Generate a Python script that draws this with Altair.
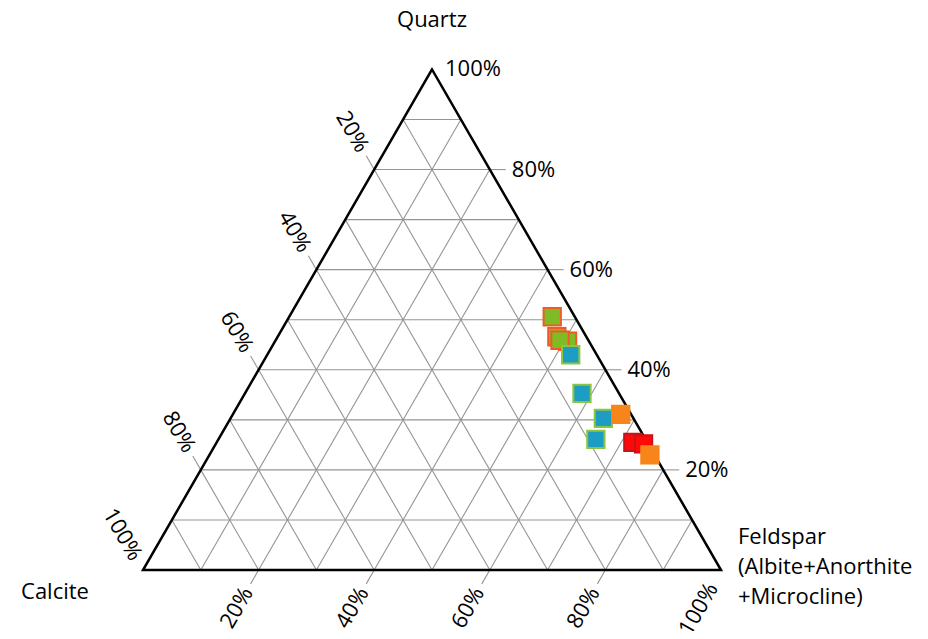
import math
import altair as alt
import pandas as pd

H = math.sqrt(3) / 2

# ---- sample compositions (percent) ----
series_names = ["Group A", "Group B", "Group C", "Group D"]
a_quartz = [50.6, 45.7, 46.6, 45.9]
a_feldspar = [45.5, 50.6, 48.3, 49.2]
b_quartz = [43.0, 35.3, 30.3, 26.1]
b_feldspar = [52.5, 58.3, 64.5, 65.3]
c_quartz = [25.5, 25.2]
c_feldspar = [72.0, 74.0]
d_quartz = [31.1, 23.0]
d_feldspar = [67.1, 76.2]

fills = ["#7fbb24", "#1d9dc4", "#ff0a0a", "#f7851a"]
strokes = ["#f05a28", "#8cc63f", "#c8121a", "#f7851a"]
sizes = [300, 300, 300, 380]

grid_vals = [10, 20, 30, 40, 50, 60, 70, 80, 90]
tick_vals = [20, 40, 60, 80]
tick_labels = ["20%", "40%", "60%", "80%"]
end_label = "100%"
vertex_titles = ["Quartz", "Calcite", "Feldspar\n(Albite+Anorthite\n+Microcline)"]

FONT = "Open Sans"
FS = 22
PX = 1 / 578.0  # data units per pixel
L = 16 * PX      # tick length


def tern(q, f):
    return f + q / 2, q * H


# points table
rows = []
for name, qs, fs in zip(series_names, [a_quartz, b_quartz, c_quartz, d_quartz],
                        [a_feldspar, b_feldspar, c_feldspar, d_feldspar]):
    for q, f in zip(qs, fs):
        rows.append({"series": name, "quartz": q, "feldspar": f, "idx": len(rows)})
pts = pd.DataFrame(rows)

# grid lines
g = []
for v in grid_vals:
    t = v / 100
    for (q1, f1), (q2, f2) in [((t, 0), (t, 1 - t)), ((0, t), (1 - t, t)), ((0, 1 - t), (1 - t, 0))]:
        x1, y1 = tern(q1, f1)
        x2, y2 = tern(q2, f2)
        g.append({"x": x1, "y": y1, "x2": x2, "y2": y2})
for v in tick_vals:
    t = v / 100
    ex, ey = tern(t, 1 - t)
    g.append({"x": ex, "y": ey, "x2": ex + L, "y2": ey})
    ex, ey = tern(1 - t, 0)
    g.append({"x": ex, "y": ey, "x2": ex - 0.5 * L, "y2": ey + H * L})
    ex, ey = tern(0, t)
    g.append({"x": ex, "y": ey, "x2": ex - 0.5 * L, "y2": ey - H * L})
grid = pd.DataFrame(g)

xs = alt.Scale(domain=[-135 * PX, 777 * PX], nice=False, zero=False)
ys = alt.Scale(domain=[-61 * PX, 562 * PX], nice=False, zero=False)
X = lambda f="x": alt.X(f"{f}:Q", scale=xs, axis=None)
Y = lambda f="y": alt.Y(f"{f}:Q", scale=ys, axis=None)

grid_layer = alt.Chart(grid).mark_rule(color="#959595", strokeWidth=1.1).encode(
    x=X(), y=Y(), x2="x2:Q", y2="y2:Q")

# triangle outline
tv = [tern(0, 0), tern(1, 0), tern(0, 1), tern(0, 0), tern(1, 0)]
tri = pd.DataFrame({"x": [p[0] for p in tv], "y": [p[1] for p in tv], "o": list(range(5))})
tri_layer = alt.Chart(tri).mark_line(color="black", strokeWidth=2.5, strokeJoin="miter").encode(
    x=X(), y=Y(), order="o:Q")

points = alt.Chart(pts).transform_calculate(
    px="datum.feldspar/100 + datum.quartz/200",
    py="datum.quartz/100*" + str(H),
).mark_point(shape="square", filled=True, opacity=1, strokeWidth=2, strokeOpacity=1).encode(
    x=X("px"), y=Y("py"),
    fill=alt.Fill("series:N", scale=alt.Scale(domain=series_names, range=fills), legend=None),
    stroke=alt.Stroke("series:N", scale=alt.Scale(domain=series_names, range=strokes), legend=None),
    size=alt.Size("series:N", scale=alt.Scale(domain=series_names, range=sizes), legend=None),
    order=alt.Order("idx:Q"),
)


def labels(df, dx, angle, align):
    return alt.Chart(df).mark_text(font=FONT, fontSize=FS, color="black", dx=dx, angle=angle,
                                   align=align, baseline="middle").encode(x=X(), y=Y(), text="t:N")


right_l, left_l, bottom_l = [], [], []
for v, lab in zip(tick_vals, tick_labels):
    t = v / 100
    x, y = tern(t, 1 - t); right_l.append({"x": x, "y": y, "t": lab})
    x, y = tern(1 - t, 0); left_l.append({"x": x, "y": y, "t": lab})
    x, y = tern(0, t); bottom_l.append({"x": x, "y": y, "t": lab})

D = 22
D100 = 13
lab_layers = [
    labels(pd.DataFrame(right_l), D, 0, "left"),
    labels(pd.DataFrame(left_l), -D, 60, "right"),
    labels(pd.DataFrame(bottom_l), -D, 300, "right"),
    labels(pd.DataFrame([dict(zip(["x", "y"], tern(1, 0)), t=end_label)]), D100, 0, "left"),
    labels(pd.DataFrame([dict(zip(["x", "y"], tern(0, 0)), t=end_label)]), -D100, 60, "right"),
    labels(pd.DataFrame([dict(zip(["x", "y"], tern(0, 1)), t=end_label)]), -D100 - 4, 300, "right"),
]


def title(name, vx, vy, dx, dy, align):
    return alt.Chart(pd.DataFrame([{"x": vx, "y": vy, "t": name}])).mark_text(
        font=FONT, fontSize=FS, color="black", dx=dx, dy=dy, align=align, baseline="middle",
        lineBreak="\n", lineHeight=30).encode(x=X(), y=Y(), text="t:N")


tx, ty = tern(1, 0)
bx, by = tern(0, 0)
rx, ry = tern(0, 1)
titles = [
    title(vertex_titles[0], tx, ty, 0, -49, "center"),
    title(vertex_titles[1], bx, by, -88, 22, "center"),
    title(vertex_titles[2], rx, ry, 17, -33, "left"),
]

chart = alt.layer(grid_layer, tri_layer, points, *lab_layers, *titles).properties(
    width=912, height=623, autosize=alt.AutoSizeParams(type="none"), padding=0
).configure_view(stroke=None)

chart.save("out.html", embed_options={"renderer": "svg", "actions": False})
